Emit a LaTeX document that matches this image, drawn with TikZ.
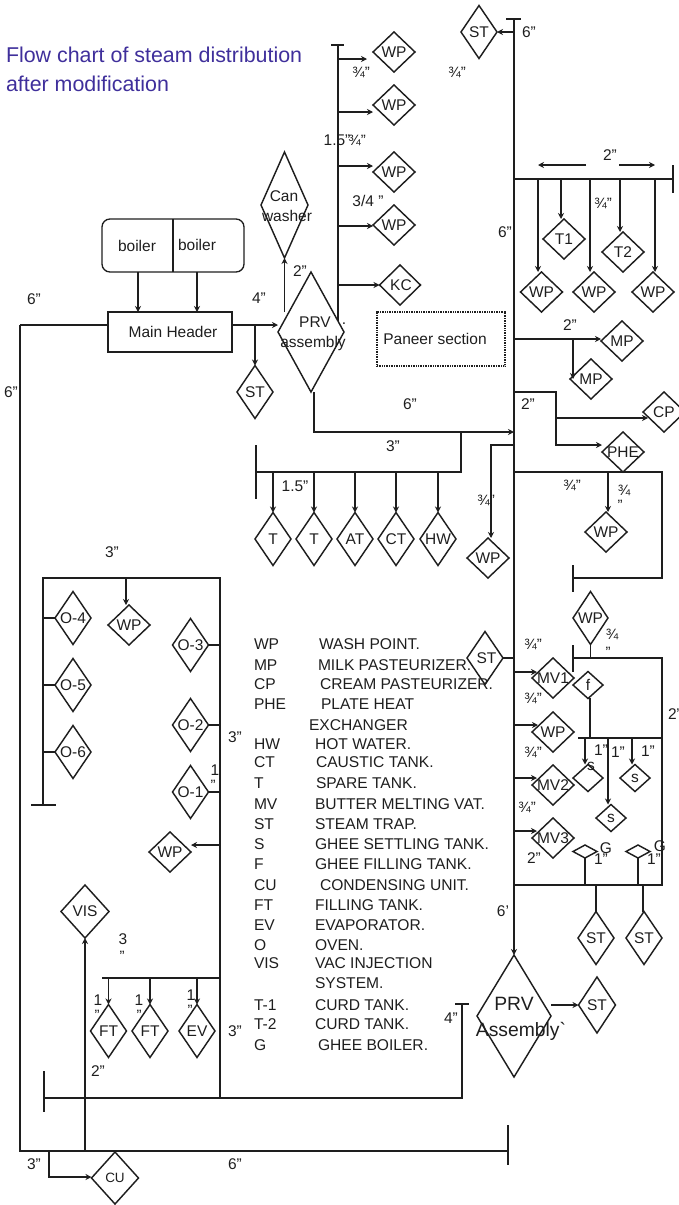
\documentclass[tikz,border=0pt]{standalone}
\usepackage{fontspec}
\setmainfont{Liberation Sans}[Ligatures=TeXOff]
\usetikzlibrary{shapes.geometric,arrows.meta,calc}
\definecolor{ink}{HTML}{1E1E1E}
\definecolor{titlec}{HTML}{3F2F9B}
\newcommand\fsz[1]{\fontsize{#1}{#1}\selectfont}
\tikzset{
  pipe/.style={draw=ink,line width=1.35pt},
  arr/.style={pipe,-{Stealth[length=6pt,width=6pt]}},
  dia/.style={diamond,draw=ink,line width=1.45pt,inner sep=0pt,outer sep=0pt,aspect=1,text=ink,font=\fsz{15.5}},
  lbl/.style={inner sep=0pt,outer sep=0pt,text=ink,font=\fsz{15.5}},
  frac/.style={lbl,font=\fsz{15}},
  leg/.style={inner sep=0pt,outer sep=0pt,anchor=west,text=ink,font=\fsz{15.6},text height=11pt,text depth=0pt},
  boxx/.style={draw=ink,line width=1.35pt,inner sep=0pt,outer sep=0pt,text=ink},
  ttl/.style={inner sep=0pt,outer sep=0pt,anchor=west,text=titlec,font=\fsz{21.4}},
}
% \dm[options]{name}{x}{y}{w}{h}{text}
\newcommand\dm[6][]{\node[dia,minimum width=#4pt,minimum height=#5pt,#1] (#2) at (#3) {\makebox[0pt]{#6}};}
\begin{document}
\begin{tikzpicture}[x=1pt,y=-1pt]
\useasboundingbox (0,0) rectangle (679,1205);
% title
\node[ttl] (title1) at (6,55) {Flow chart of steam distribution};
\node[ttl] (title2) at (6,84) {after modification};
% boilers and main header
\node[boxx,rounded corners=8pt,minimum width=142pt,minimum height=53pt] (boilers) at (173,245.5) {};
\draw[pipe] (boilers.north) -- (boilers.south);
\node[lbl] (boilerA) at (137,246) {boiler};
\node[lbl] (boilerB) at (197,245) {boiler};
\node[boxx,minimum width=124pt,minimum height=40pt] (header) at (170,332) {};
\node[lbl] (headertxt) at (173,332) {Main Header};
\coordinate (bA) at (138,272);
\coordinate (bB) at (197,272);
\draw[arr] (bA) -- (bA |- header.north);
\draw[arr] (bB) -- (bB |- header.north);
% top diamonds
\dm{sttop}{479,32}{36}{53}{ST}
\dm{wp1}{394,52}{42}{40}{WP}
\dm{wp2}{394,105}{42}{40}{WP}
\dm{wp3}{394,172}{42}{40}{WP}
\dm{wp4}{394,225}{42}{40}{WP}
\dm{kc}{400,285}{41}{40}{\hspace{2pt}KC}
\node[dia,minimum width=47pt,minimum height=106pt] (can) at (284.5,205) {};
\node[lbl] (cantxtA) at (284,196) {Can};
\node[lbl] (cantxtB) at (287,216) {washer};
\node[dia,minimum width=66pt,minimum height=120pt] (prv) at (311,332) {};
\node[lbl] (prvtxtA) at (315,322) {PRV};
\node[lbl] (prvdot) at (344,324) {.};
\node[lbl] (prvtxtB) at (313,343) {assembly};
\dm{sthead}{255,392}{36}{53}{ST}
% main vertical
\coordinate (mtop) at (514,19);
\coordinate (mcapL) at (506,19);
\coordinate (mcapR) at (521,19);
\coordinate (mbot) at (514,955);
\draw[pipe] (mcapL) -- (mcapR);
\draw[arr] (mtop) -- (mbot);
\coordinate (jst) at (514,32);
\draw[arr] (jst) -- (sttop.east);
% WP header
\coordinate (vtop) at (338,45);
\coordinate (vcapL) at (331,45);
\coordinate (vcapR) at (344,45);
\coordinate (vbot) at (338,321);
\draw[pipe] (vcapL) -- (vcapR);
\draw[pipe] (vtop) -- (vbot);
\coordinate (j1) at (338,59);
\coordinate (j1e) at (367,59);
\coordinate (j2) at (338,112);
\coordinate (j3) at (338,166);
\coordinate (j4) at (338,226);
\coordinate (j5) at (338,285);
\draw[arr] (j1) -- (j1e);
\draw[arr] (j2) -- (j2 -| wp2.west);
\draw[arr] (j3) -- (j3 -| wp3.west);
\draw[arr] (j4) -- (j4 -| wp4.west);
\draw[arr] (j5) -- (j5 -| kc.west);
% header to left frame, PRV, ST, can
\coordinate (hl) at (20,325);
\coordinate (hr) at (232,325);
\coordinate (hst) at (255,325);
\coordinate (hc) at (284.5,312);
\draw[arr] (hr) -- (hr -| prv.west);
\draw[arr] (hst) -- (sthead.north);
\draw[arr] (hc) -- (can.south);
\draw[pipe] (hl) -- (hl -| header.west);
\coordinate (fbl) at (20,1151);
\coordinate (fbr) at (508,1151);
\coordinate (fbrT) at (508,1125);
\coordinate (fbrB) at (508,1165);
\draw[pipe] (hl) -- (fbl) -- (fbr);
\draw[pipe] (fbrT) -- (fbrB);
% paneer
\node[draw=ink,line width=1.2pt,dash pattern=on 1pt off 0.7pt,minimum width=128pt,minimum height=54pt,inner sep=0pt,outer sep=0pt] (paneer) at (441,339) {};
\node[lbl] (paneertxt) at (435,339) {Paneer section};
% 2 inch right header
\coordinate (rh) at (514,179);
\coordinate (rhe) at (673,179);
\coordinate (rhT) at (673,165);
\coordinate (rhB) at (673,193);
\draw[pipe] (rh) -- (rhe);
\draw[pipe] (rhT) -- (rhB);
\coordinate (aL1) at (586,165);
\coordinate (aL2) at (538,165);
\coordinate (aR1) at (619,165);
\coordinate (aR2) at (655,165);
\draw[arr] (aL1) -- (aL2);
\draw[arr] (aR1) -- (aR2);
\dm{wpa}{541.5,292}{42}{40}{WP}
\dm{ta}{564,239}{42}{40}{T1}
\dm{wpb}{594,292}{42}{40}{WP}
\dm{tb}{623,252}{42}{40}{T2}
\dm{wpc}{653,292}{42}{40}{WP}
\coordinate (d1) at (538,179);
\coordinate (d2) at (561,179);
\coordinate (d3) at (590,179);
\coordinate (d4) at (620,179);
\coordinate (d5) at (655,179);
\draw[arr] (d1) -- (d1 |- wpa.north);
\draw[arr] (d2) -- (d2 |- ta.north);
\draw[arr] (d3) -- (d3 |- wpb.north);
\draw[arr] (d4) -- (d4 |- tb.north);
\draw[arr] (d5) -- (d5 |- wpc.north);
% MP
\dm{mpa}{622,341}{42}{40}{MP}
\dm{mpb}{591,379}{42}{40}{MP}
\coordinate (mj) at (514,339);
\coordinate (mj2) at (573,339);
\draw[arr] (mj) -- (mj -| mpa.west);
\draw[arr] (mj2) -- (mj2 |- mpb.center);
% CP PHE
\dm{cp}{664,412}{42}{40}{CP}
\dm{phe}{623,452}{42}{40}{PHE}
\coordinate (pa) at (514,392);
\coordinate (pb) at (556,392);
\coordinate (pc) at (556,445);
\coordinate (pd) at (556,418);
\coordinate (pe) at (648,418);
\draw[arr] (pa) -- (pb) -- (pc) -- (pc -| phe.west);
\draw[arr] (pd) -- (pe);
% PRV to main, 3 inch branch
\coordinate (pv) at (314,392);
\coordinate (pw) at (314,432);
\coordinate (px) at (514,432);
\coordinate (br) at (461,432);
\coordinate (brb) at (461,472);
\coordinate (bre) at (256,472);
\coordinate (breT) at (256,445);
\coordinate (breB) at (256,499);
\draw[arr] (pv) -- (pw) -- (px);
\draw[pipe] (br) -- (brb) -- (bre);
\draw[pipe] (breT) -- (breB);
\dm{ta1}{273,539}{36}{53}{T}
\dm{ta2}{314,539}{36}{53}{T}
\dm{at}{355,539}{36}{53}{AT}
\dm{ct}{396,539}{36}{53}{CT}
\dm{hw}{438,539}{36}{53}{HW}
\coordinate (t1) at (273,472);
\coordinate (t2) at (314,472);
\coordinate (t3) at (355,472);
\coordinate (t4) at (396,472);
\coordinate (t5) at (438,472);
\draw[arr] (t1) -- (ta1.north);
\draw[arr] (t2) -- (ta2.north);
\draw[arr] (t3) -- (at.north);
\draw[arr] (t4) -- (ct.north);
\draw[arr] (t5) -- (hw.north);
% WP left of main
\dm{wpm}{488,558}{42}{40}{WP}
\coordinate (wa) at (514,445);
\coordinate (wb) at (491,445);
\draw[arr] (wa) -- (wb) -- (wb |- wpm.north);
% right loop
\coordinate (la) at (514,472);
\coordinate (lb) at (662,472);
\coordinate (lc) at (662,578);
\coordinate (ld) at (573,578);
\coordinate (ldT) at (573,565);
\coordinate (ldB) at (573,592);
\draw[pipe] (la) -- (lb) -- (lc) -- (ld);
\draw[pipe] (ldT) -- (ldB);
\dm{wpr}{606,532}{42}{40}{WP}
\coordinate (lw) at (608,472);
\draw[arr] (lw) -- (lw |- wpr.north);
\dm{wps}{590.5,618}{35}{53}{WP}
\coordinate (ga) at (590.5,658);
\coordinate (gl) at (573,658);
\coordinate (glT) at (573,645);
\coordinate (glB) at (573,672);
\coordinate (gr) at (662,658);
\coordinate (grb) at (662,885);
\coordinate (gbl) at (514,885);
\draw[pipe] (wps.south) -- (ga);
\draw[pipe] (gbl) -- (grb) -- (gr) -- (gl);
\draw[pipe] (glT) -- (glB);
% ST at main
\dm{stm}{485,658}{36}{53}{\hspace{3pt}ST}
\coordinate (stj) at (514,658);
\draw[pipe] (stm.east) -- (stj);
% MV
\dm{mva}{553,678}{42}{40}{MV1}
\dm{wpv}{553,732}{42}{40}{WP}
\dm{mvb}{553,785}{42}{40}{MV2}
\dm{mvc}{553,838}{42}{40}{MV3}
\coordinate (ma) at (514,672);
\coordinate (mb) at (514,725);
\coordinate (mc) at (514,778);
\coordinate (md) at (514,831);
\coordinate (ma2) at (537,672);
\coordinate (mb2) at (538,725);
\coordinate (mc2) at (537,778);
\coordinate (md2) at (537,831);
\draw[arr] (ma) -- (ma2);
\draw[arr] (mb) -- (mb2);
\draw[arr] (mc) -- (mc2);
\draw[arr] (md) -- (md2);
% f and s
\dm{ff}{588,685}{30}{27}{f}
\coordinate (fa) at (590,698);
\coordinate (fb) at (590,738);
\coordinate (fl) at (578,738);
\coordinate (fr) at (662,738);
\draw[pipe] (fa) -- (fb);
\draw[pipe] (fl) -- (fr);
\dm{sa}{588,778}{30}{27}{}
\node[lbl] (satxt) at (591,766) {s};
\dm{sb}{611,818}{30}{27}{s}
\dm{sc}{635,778}{30}{27}{s}
\coordinate (ja) at (585,738);
\coordinate (jb) at (608,738);
\coordinate (jc) at (632,738);
\draw[arr] (ja) -- (ja |- sa.north);
\draw[arr] (jb) -- (jb |- sb.north);
\draw[arr] (jc) -- (jc |- sc.north);
% G
\dm{ga1}{585,851.5}{24}{13}{}
\dm{ga2}{638,851.5}{24}{13}{}
\coordinate (gs1) at (585,885);
\coordinate (gs2) at (638,885);
\draw[pipe] (ga1.south) -- (gs1);
\draw[pipe] (ga2.south) -- (gs2);
\node[lbl] (gt1) at (606,848) {G};
\node[lbl] (gt2) at (660,846) {G};
% lower ST
\dm{stl1}{596,938}{36}{53}{ST}
\dm{stl2}{644,938}{36}{53}{ST}
\coordinate (sj1) at (596,885);
\coordinate (sj2) at (643,885);
\draw[pipe] (sj1) -- (stl1.north);
\draw[pipe] (sj2) -- (sj2 |- stl2.north);
% lower PRV
\dm{prvl}{514,1016}{74}{122}{}
\node[lbl,font=\fsz{19.3}] (prvlA) at (514,1004) {PRV};
\node[lbl,font=\fsz{19.3}] (prvlB) at (521,1031) {Assembly`};
\dm{stp}{597,1005}{37}{56}{ST}
\coordinate (pp) at (551,1005);
\draw[arr] (pp) -- (stp.west);
% left frame
\coordinate (ba) at (44,1098);
\coordinate (baT) at (44,1071);
\coordinate (baB) at (44,1112);
\coordinate (bb) at (462,1098);
\coordinate (bc) at (462,1004);
\coordinate (bcL) at (455,1004);
\coordinate (bcR) at (469,1004);
\draw[pipe] (ba) -- (bb) -- (bc);
\draw[pipe] (baT) -- (baB);
\draw[pipe] (bcL) -- (bcR);
\coordinate (fa1) at (220,1098);
\coordinate (fa2) at (220,578);
\coordinate (fa3) at (43,578);
\coordinate (fa4) at (43,805);
\coordinate (fa5) at (31,805);
\coordinate (fa6) at (56,805);
\draw[pipe] (fa1) -- (fa2) -- (fa3) -- (fa4);
\draw[pipe] (fa5) -- (fa6);
\dm{wpo}{129,625}{42}{40}{WP}
\coordinate (wj) at (126,578);
\draw[arr] (wj) -- (wj |- wpo.north);
\dm{oa}{73,618}{36}{53}{O-4}
\dm{ob}{73,685}{36}{53}{O-5}
\dm{oc}{73,752}{36}{53}{O-6}
\dm{od}{190.5,645}{36}{53}{O-3}
\dm{oe}{190.5,725}{36}{53}{O-2}
\dm{og}{190.5,792}{36}{53}{O-1}
\coordinate (oja) at (43,618);
\coordinate (ojb) at (43,685);
\coordinate (ojc) at (43,752);
\coordinate (ojd) at (220,645);
\coordinate (oje) at (220,725);
\coordinate (ojg) at (220,792);
\draw[pipe] (oja) -- (oa.west);
\draw[pipe] (ojb) -- (ob.west);
\draw[pipe] (ojc) -- (oc.west);
\draw[pipe] (ojd) -- (od.east);
\draw[pipe] (oje) -- (oe.east);
\draw[pipe] (ojg) -- (og.east);
\dm{wpq}{170,852}{42}{40}{WP}
\coordinate (wqj) at (220,845);
\draw[arr] (wqj) -- (wqj -| wpq.east);
% VIS
\dm{vis}{85,911.5}{48}{53}{VIS}
\coordinate (vj) at (85,1151);
\draw[arr] (vj) -- (vis.south);
% FT EV
\coordinate (fh1) at (102,978);
\coordinate (fh2) at (220,978);
\draw[pipe] (fh1) -- (fh2);
\dm{fta}{108.5,1031}{36}{53}{FT}
\dm{ftb}{150,1031}{36}{53}{FT}
\dm{ev}{197,1031}{36}{53}{EV}
\coordinate (fj1) at (108.5,978);
\coordinate (fj2) at (150,978);
\coordinate (fj3) at (197,978);
\draw[arr] (fj1) -- (fta.north);
\draw[arr] (fj2) -- (ftb.north);
\draw[arr] (fj3) -- (ev.north);
% CU
\dm[font=\fsz{13.5}]{cu}{115,1178}{47}{52}{CU}
\coordinate (cua) at (49,1151);
\coordinate (cub) at (49,1177);
\draw[arr] (cua) -- (cub) -- (cub -| cu.west);
% size labels
\node[lbl] (s01) at (529,32) {6”};
\node[frac] (s02) at (457,72) {¾”};
\node[frac] (s03) at (361,72) {¾”};
\node[lbl] (s04) at (337,140) {1.5”};
\node[frac] (s05) at (357,140) {¾”};
\node[lbl] (s06) at (368,201) {3/4 ”};
\node[lbl] (s07) at (300,271) {2”};
\node[lbl] (s08) at (259,298) {4”};
\node[lbl] (s09) at (34,299) {6”};
\node[lbl] (s10) at (11,392) {6”};
\node[lbl] (s11) at (610,155) {2”};
\node[frac] (s12) at (603,203) {¾”};
\node[lbl] (s13) at (505,232) {6”};
\node[lbl] (s14) at (570,325) {2”};
\node[lbl] (s15) at (528,404) {2”};
\node[lbl] (s16) at (410,404) {6”};
\node[lbl] (s17) at (393,446) {3”};
\node[lbl] (s18) at (295,486) {1.5”};
\node[frac] (s19) at (486,500) {¾”};
\node[frac] (s20) at (572,485) {¾”};
\node[frac] (s21) at (624,490) {¾};
\node[frac] (s22) at (620,505) {”};
\node[frac] (s23) at (612,634) {¾};
\node[frac] (s24) at (608,652) {”};
\node[frac] (s25) at (533,644) {¾”};
\node[frac] (s26) at (533,698) {¾”};
\node[frac] (s27) at (533,752) {¾”};
\node[frac] (s28) at (527,807) {¾”};
\node[lbl] (s29) at (534,858) {2”};
\node[lbl] (s30) at (675,714) {2”};
\node[lbl] (s31) at (601,750) {1”};
\node[lbl] (s32) at (618,752) {1”};
\node[lbl] (s33) at (648,751) {1”};
\node[lbl] (s34) at (601,859) {1”};
\node[lbl] (s35) at (654,859) {1”};
\node[lbl] (s36) at (503,911) {6’};
\node[lbl] (s37) at (451,1018) {4”};
\node[lbl] (s38) at (112,552) {3”};
\node[lbl] (s39) at (235,737) {3”};
\node[lbl] (s40) at (215,770) {1};
\node[frac] (s41) at (213,785) {”};
\node[lbl] (s42) at (123,939) {3};
\node[frac] (s43) at (122,956) {”};
\node[lbl] (s44) at (98,1000) {1};
\node[frac] (s45) at (97,1015) {”};
\node[lbl] (s46) at (139,1000) {1};
\node[frac] (s47) at (139,1015) {”};
\node[lbl] (s48) at (191,995) {1};
\node[frac] (s49) at (190,1010) {”};
\node[lbl] (s50) at (235,1031) {3”};
\node[lbl] (s51) at (98,1071) {2”};
\node[lbl] (s52) at (34,1164) {3”};
\node[lbl] (s53) at (235,1164) {6”};
% legend
\node[leg] (k01) at (254,644) {WP};       \node[leg] (v01) at (319,644) {WASH POINT.};
\node[leg] (k02) at (254,665) {MP};       \node[leg] (v02) at (318,665) {MILK PASTEURIZER.};
\node[leg] (k03) at (254,684) {CP};       \node[leg] (v03) at (320,684) {CREAM PASTEURIZER.};
\node[leg] (k04) at (254,704) {PHE};      \node[leg] (v04) at (321,704) {PLATE HEAT};
\node[leg] (v04b) at (309,725) {EXCHANGER};
\node[leg] (k05) at (254,744) {HW};       \node[leg] (v05) at (315,744) {HOT WATER.};
\node[leg] (k06) at (254,762) {CT};       \node[leg] (v06) at (316,762) {CAUSTIC TANK.};
\node[leg] (k07) at (254,783) {T};        \node[leg] (v07) at (316,783) {SPARE TANK.};
\node[leg] (k08) at (254,804) {MV};       \node[leg] (v08) at (315,804) {BUTTER MELTING VAT.};
\node[leg] (k09) at (254,824) {ST};       \node[leg] (v09) at (315,824) {STEAM TRAP.};
\node[leg] (k10) at (254,844) {S};        \node[leg] (v10) at (315,844) {GHEE SETTLING TANK.};
\node[leg] (k11) at (254,864) {F};        \node[leg] (v11) at (315,864) {GHEE FILLING TANK.};
\node[leg] (k12) at (254,885) {CU};       \node[leg] (v12) at (320,885) {CONDENSING UNIT.};
\node[leg] (k13) at (254,905) {FT};       \node[leg] (v13) at (315,905) {FILLING TANK.};
\node[leg] (k14) at (254,925) {EV};       \node[leg] (v14) at (315,925) {EVAPORATOR.};
\node[leg] (k15) at (254,945) {O};        \node[leg] (v15) at (315,945) {OVEN.};
\node[leg] (k16) at (254,963) {VIS};      \node[leg] (v16) at (315,963) {VAC INJECTION};
\node[leg] (v16b) at (315,983) {SYSTEM.};
\node[leg] (k17) at (254,1005) {T-1};     \node[leg] (v17) at (315,1005) {CURD TANK.};
\node[leg] (k18) at (254,1024) {T-2};     \node[leg] (v18) at (315,1024) {CURD TANK.};
\node[leg] (k19) at (254,1045) {G};       \node[leg] (v19) at (318,1045) {GHEE BOILER.};
\end{tikzpicture}
\end{document}
